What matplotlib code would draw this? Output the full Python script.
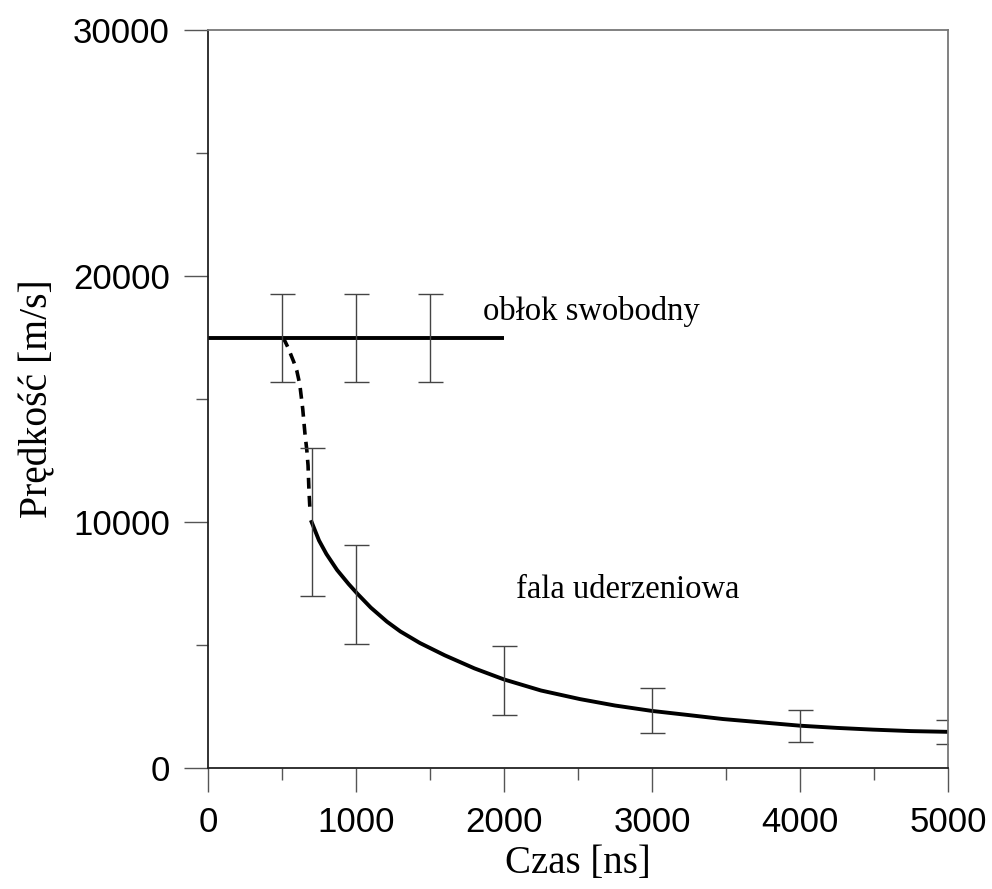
import numpy as np
import matplotlib
matplotlib.use("Agg")
import matplotlib.pyplot as plt
from matplotlib.ticker import MultipleLocator

# obłok swobodny - free cloud, flat line
free_t = [0, 500, 2000]
free_v = [17500, 17500, 17500]

# transition (dashed)
trans_t = [500, 520, 540, 560, 580, 600, 620, 640, 655, 668, 676, 682, 689]
trans_v = [17500, 17350, 17100, 16800, 16500, 16150, 15600, 14600, 13600, 12900, 12300, 11300, 10500]

# fala uderzeniowa - shock wave (solid curve)
shock_t = [700, 750, 800, 872, 950, 1007, 1100, 1209, 1300, 1432, 1600, 1800, 2000,
           2250, 2514, 2750, 3000, 3250, 3480, 3750, 4000, 4250, 4493, 4750, 5000]
shock_v = [10000, 9250, 8700, 8050, 7480, 7100, 6520, 5950, 5550, 5080, 4580, 4050, 3600,
           3150, 2800, 2540, 2320, 2150, 1990, 1850, 1720, 1630, 1560, 1500, 1470]

# error bars
err_t = [500, 1000, 1500, 700, 1000, 2000, 3000, 4000, 5000]
err_lo = [15700, 15700, 15700, 7000, 5040, 2150, 1420, 1060, 980]
err_hi = [19270, 19270, 19270, 13000, 9070, 4960, 3250, 2360, 1950]

fig = plt.figure(figsize=(9.92, 8.89), dpi=100)
ax = fig.add_axes([208 / 992, 1 - 768 / 889, 740 / 992, 738 / 889])

ax.plot(free_t, free_v, color="black", lw=2.8, solid_capstyle="butt")
ax.plot(trans_t, trans_v, color="black", lw=2.6, linestyle=(0, (3.0, 2.0)))
ax.plot(shock_t, shock_v, color="black", lw=2.8, solid_joinstyle="round")

err_t = np.array(err_t)
lo = np.array(err_lo)
hi = np.array(err_hi)
mid = (lo + hi) / 2
ax.errorbar(err_t, mid, yerr=[mid - lo, hi - mid], fmt="none", ecolor="#444444",
            elinewidth=1.0, capsize=9, capthick=1.0)

ax.text(1858, 18200, "obłok swobodny", family="Liberation Serif", fontsize=23.5)
ax.text(2081, 6900, "fala uderzeniowa", family="Liberation Serif", fontsize=23.5)

ax.set_xlim(0, 5000)
ax.set_ylim(0, 30000)
ax.xaxis.set_major_locator(MultipleLocator(1000))
ax.xaxis.set_minor_locator(MultipleLocator(500))
ax.yaxis.set_major_locator(MultipleLocator(10000))
ax.yaxis.set_minor_locator(MultipleLocator(5000))
ax.tick_params(which="major", length=17.5, width=1.0, color="#555555",
               labelsize=25, pad=10)
ax.tick_params(which="minor", length=8.8, width=1.0, color="#555555")
for lab in ax.get_xticklabels() + ax.get_yticklabels():
    lab.set_family("Liberation Sans")

ax.spines["left"].set_color("#222222")
ax.spines["bottom"].set_color("#222222")
ax.spines["top"].set_color("#777777")
ax.spines["right"].set_color("#777777")
for s in ax.spines.values():
    s.set_linewidth(1.3)

ax.set_xlabel("Czas [ns]", family="Liberation Serif", fontsize=28, labelpad=4)
ax.set_ylabel("Prędkość [m/s]", family="Liberation Serif", fontsize=28.5, labelpad=12)

fig.savefig("out.png", dpi=100)
